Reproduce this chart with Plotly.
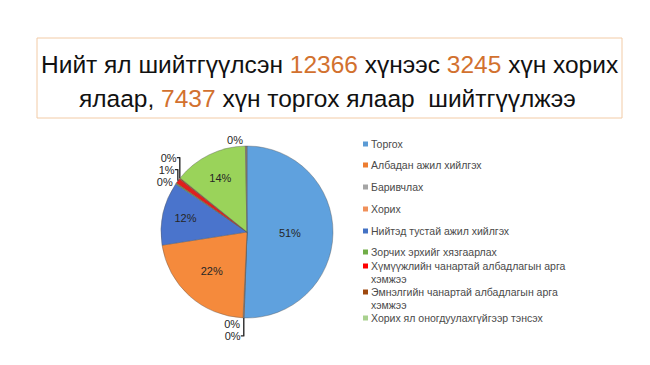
import plotly.graph_objects as go

# page has an 8px body margin; draw in reference pixel coordinates and compensate
OFF = 8
W, H = 650 - OFF, 365 - OFF

# ---- data ----
categories = [
    "Торгох",
    "Албадан ажил хийлгэх",
    "Баривчлах",
    "Хорих",
    "Нийтэд тустай ажил хийлгэх",
    "Зорчих эрхийг хязгаарлах",
    "Хүмүүжлийн чанартай албадлагын арга хэмжээ",
    "Эмнэлгийн чанартай албадлагын арга хэмжээ",
    "Хорих ял оногдуулахгүйгээр тэнсэх",
    "Бусад",
]
values = [51, 0.1, 0.1, 22, 12, 0.2, 1, 0.2, 14, 0.3]
slice_colors = ["#5FA1DE", "#ED7D31", "#A5A5A5", "#F58A3C", "#4A74CC",
                "#70AD47", "#E0201C", "#9E480E", "#9AD35A", "#8C7B6B"]
legend_labels = categories[:9]
legend_colors = ["#5B9BD5", "#ED7D31", "#A5A5A5", "#F0905A", "#4472C4",
                 "#70AD47", "#FF0000", "#9E480E", "#A9D18E"]

title_line1 = ("Нийт ял шийтгүүлсэн <span style='color:#D2712F'>12366</span> хүнээс "
               "<span style='color:#D2712F'>3245</span> хүн хорих")
title_line2 = ("ялаар, <span style='color:#D2712F'>7437</span> хүн торгох ялаар  шийтгүүлжээ")


def px(x):
    return (x - OFF) / W


def py(y):
    return 1 - (y - OFF) / H


textpos = ["inside" if v >= 5 else "outside" for v in values]

fig = go.Figure()
fig.add_trace(go.Pie(
    labels=categories,
    values=values,
    sort=False,
    direction="clockwise",
    rotation=0,
    marker=dict(colors=slice_colors, line=dict(color="rgba(90,90,90,0.5)", width=0.8)),
    texttemplate="%{percent:.0%}",
    textposition=textpos,
    textfont=dict(family="Liberation Sans, Arial, sans-serif", size=11, color="#262626"),
    insidetextorientation="horizontal",
    showlegend=False,
    hoverinfo="label+percent",
    domain=dict(x=[px(161), px(333)], y=[py(318), py(146)]),
))

shapes = [dict(type="rect", xref="paper", yref="paper",
               x0=px(37), x1=px(622), y0=py(118), y1=py(38),
               line=dict(color="#F2CBA6", width=1), fillcolor="rgba(0,0,0,0)")]
annotations = [
    dict(text=title_line1, x=px(330), y=py(65), xref="paper", yref="paper",
         showarrow=False, xanchor="center", yanchor="middle",
         font=dict(family="Liberation Sans, Arial, sans-serif", size=24.5, color="#111111")),
    dict(text=title_line2, x=px(327), y=py(98), xref="paper", yref="paper",
         showarrow=False, xanchor="center", yanchor="middle",
         font=dict(family="Liberation Sans, Arial, sans-serif", size=24.5, color="#111111")),
]

legend_y = [144, 165, 187, 209, 231, 252, 266, 292, 318]
for lab, col, ly in zip(legend_labels, legend_colors, legend_y):
    shapes.append(dict(type="rect", xref="paper", yref="paper",
                       x0=px(363), x1=px(368), y0=py(ly + 2.5), y1=py(ly - 2.5),
                       line=dict(width=0), fillcolor=col))
    words = lab.split(" ")
    if len(lab) > 38:
        lines = [" ".join(words[:-1]), words[-1]]
    else:
        lines = [lab]
    for i, ln in enumerate(lines):
        annotations.append(dict(text=ln, x=px(369), y=py(ly + i * 13), xref="paper", yref="paper",
                                showarrow=False, xanchor="left", yanchor="middle",
                                font=dict(family="Liberation Sans, Arial, sans-serif", size=10.5,
                                          color="#4a4a4a")))

fig.update_layout(
    width=W, height=H,
    margin=dict(l=0, r=0, t=0, b=0),
    paper_bgcolor="white", plot_bgcolor="white",
    shapes=shapes, annotations=annotations,
)
fig.write_html("out.html")
